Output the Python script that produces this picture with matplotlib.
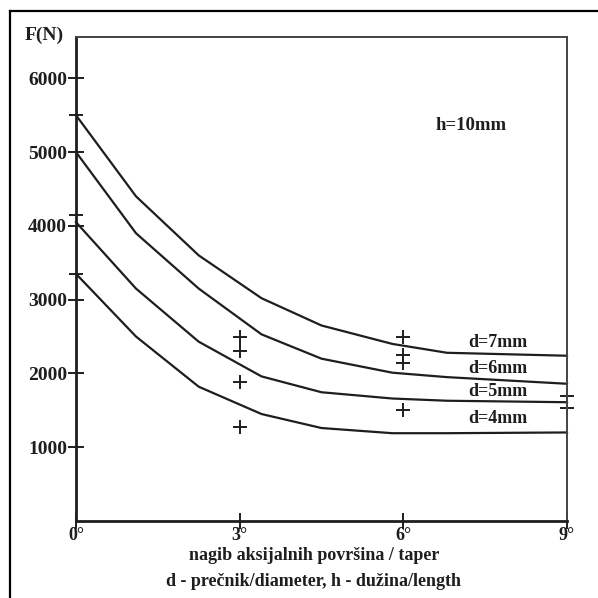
import matplotlib
matplotlib.use("Agg")
import matplotlib.pyplot as plt
from matplotlib.lines import Line2D

plt.rcParams['font.family'] = ['Liberation Serif', 'DejaVu Serif']
plt.rcParams['font.weight'] = 'bold'

# Data
taper_deg = [0, 1.1, 2.25, 3.4, 4.5, 5.8, 6.8, 9]
force_d7 = [5500, 4400, 3600, 3020, 2650, 2400, 2280, 2240]
force_d6 = [5000, 3900, 3150, 2530, 2200, 2010, 1950, 1860]
force_d5 = [4050, 3150, 2430, 1960, 1745, 1660, 1630, 1610]
force_d4 = [3350, 2500, 1820, 1450, 1260, 1190, 1190, 1200]
series_labels = ["d=7mm", "d=6mm", "d=5mm", "d=4mm"]
label_values = [2425, 2073, 1761, 1396]

meas_x = [3, 3, 3, 3, 6, 6, 6, 6, 9, 9]
meas_y = [2490, 2310, 1880, 1270, 2490, 2245, 2135, 1500, 1700, 1525]

start_ticks = [5500, 4150, 3350]
y_ticks = [1000, 2000, 3000, 4000, 5000, 6000]
x_ticks = [0, 3, 6, 9]
x_tick_labels = ["0°", "3°", "6°", "9°"]

ink = '#1e1e1e'

fig = plt.figure(figsize=(5.98, 5.98), dpi=100)
ax = fig.add_axes([76/598, 1 - 521/598, (567-76)/598, (521-37)/598])
ax.set_xlim(0, 9)
ax.set_ylim(0, 6560)

for ys, lab, lv in zip([force_d7, force_d6, force_d5, force_d4], series_labels, label_values):
    ax.plot(taper_deg, ys, color=ink, lw=1.6, solid_joinstyle='round', clip_on=False)
    ax.text(7.73, lv, lab, ha='center', va='center', fontsize=13, color=ink, fontweight='bold')

ax.plot(meas_x, meas_y, linestyle='none', marker='+', markersize=10, mew=1.4, color=ink, clip_on=False)

ax.text(7.25, 5366, "h=10mm", ha='center', va='center', fontsize=13.5, color=ink, fontweight='bold')

# extra start ticks on y axis
for v in start_ticks:
    ax.plot([0], [v], marker='_', markersize=10, mew=1.4, color=ink, clip_on=False)

ax.set_yticks(y_ticks)
ax.set_yticklabels([str(v) for v in y_ticks], fontsize=14, fontweight='bold', color=ink)
ax.set_xticks(x_ticks)
ax.set_xticklabels(x_tick_labels, fontsize=13, fontweight='bold', color=ink)
ax.tick_params(axis='y', direction='inout', length=11, width=1.4, color=ink, pad=1)
ax.tick_params(axis='x', direction='inout', length=11, width=1.4, color=ink, pad=-1)

ax.spines['left'].set_linewidth(2.0)
ax.spines['bottom'].set_linewidth(2.0)
ax.spines['left'].set_color(ink)
ax.spines['bottom'].set_color(ink)
ax.spines['top'].set_linewidth(1.4)
ax.spines['right'].set_linewidth(1.4)
ax.spines['top'].set_color('#4a4242')
ax.spines['right'].set_color('#4a4242')

fig.text(44/598, 1 - 35/598, "F(N)", ha='center', va='center', fontsize=14, fontweight='bold', color=ink)
fig.text(314/598, 1 - 555/598, "nagib aksijalnih površina / taper", ha='center', va='center',
         fontsize=13, fontweight='bold', color=ink)
fig.text(313/598, 1 - 581/598, "d - prečnik/diameter, h - dužina/length", ha='center', va='center',
         fontsize=13, fontweight='bold', color=ink)

# outer frame (left and top edges)
fig.add_artist(Line2D([10/598, 10/598], [0, 1 - 11/598], transform=fig.transFigure, color='black', lw=1.6))
fig.add_artist(Line2D([10/598, 1], [1 - 11/598, 1 - 11/598], transform=fig.transFigure, color='black', lw=1.6))

fig.savefig("out.png", dpi=100)
